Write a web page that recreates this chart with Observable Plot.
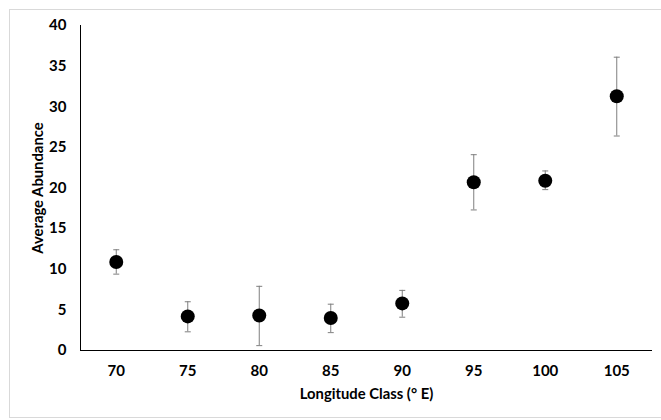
<!DOCTYPE html>
<html>
<head>
<meta charset="utf-8">
<script src="https://cdn.jsdelivr.net/npm/d3@7"></script>
<script src="https://cdn.jsdelivr.net/npm/@observablehq/plot@0.6"></script>
<style>
  html, body { margin: 0; padding: 0; background: #fff; }
  #wrap { position: relative; width: 661px; height: 420px; }
  #border { position: absolute; left: 9px; top: 9px; width: 660px; height: 409px; border: 1px solid #d9d9d9; box-sizing: border-box; }
  #chart { position: absolute; left: 0; top: 0; }
</style>
</head>
<body>
<div id="wrap"><div id="border"></div><div id="chart"></div></div>
<script>
const longitudes = [70, 75, 80, 85, 90, 95, 100, 105];
const means      = [10.9, 4.2, 4.3, 4.0, 5.8, 20.7, 20.9, 31.3];
const lower      = [9.4, 2.3, 0.6, 2.2, 4.1, 17.3, 19.8, 26.4];
const upper      = [12.4, 6.0, 7.9, 5.7, 7.4, 24.1, 22.1, 36.1];
const yTicks     = [0, 5, 10, 15, 20, 25, 30, 35, 40];
const xTitle = "Longitude Class (° E)";
const yTitle = "Average Abundance";

const data = longitudes.map((x, i) => ({x, mean: means[i], lo: lower[i], hi: upper[i]}));

const capSymbol = {
  draw(ctx, size) {
    const w = 3;
    ctx.moveTo(-w, 0);
    ctx.lineTo(w, 0);
  }
};

const font = "Lato, 'Open Sans', sans-serif";

const plot = Plot.plot({
  width: 661,
  height: 420,
  marginLeft: 80,
  marginRight: 9,
  marginTop: 25,
  marginBottom: 70,
  style: {fontFamily: font, fontSize: "15px", fontWeight: "bold", color: "#000", background: "transparent"},
  x: {domain: [67.5, 107.5], ticks: longitudes, tickSize: 0, tickPadding: 15, label: null},
  y: {domain: [0, 40], ticks: yTicks, tickSize: 0, tickPadding: 14, label: null},
  marks: [
    Plot.ruleY([0], {stroke: "#000", strokeWidth: 1}),
    Plot.ruleX([67.5], {y1: 0, y2: 40, stroke: "#000", strokeWidth: 1}),
    Plot.ruleX(data, {x: "x", y1: "lo", y2: "hi", stroke: "#7f7f7f", strokeWidth: 1}),
    Plot.dot(data, {x: "x", y: "lo", symbol: capSymbol, stroke: "#7f7f7f", strokeWidth: 1, r: 3}),
    Plot.dot(data, {x: "x", y: "hi", symbol: capSymbol, stroke: "#7f7f7f", strokeWidth: 1, r: 3}),
    Plot.dot(data, {x: "x", y: "mean", r: 7, fill: "#000", stroke: null}),
    Plot.text([xTitle], {frameAnchor: "bottom", dy: 44, lineAnchor: "middle", textAnchor: "middle", text: d => d, fontSize: 14.8, fontWeight: "bold", fill: "#000"}),
    Plot.text([yTitle], {frameAnchor: "left", dx: -42, rotate: -90, lineAnchor: "middle", textAnchor: "middle", text: d => d, fontSize: 14.8, fontWeight: "bold", fill: "#000"})
  ]
});
document.getElementById("chart").appendChild(plot);
</script>
</body>
</html>
